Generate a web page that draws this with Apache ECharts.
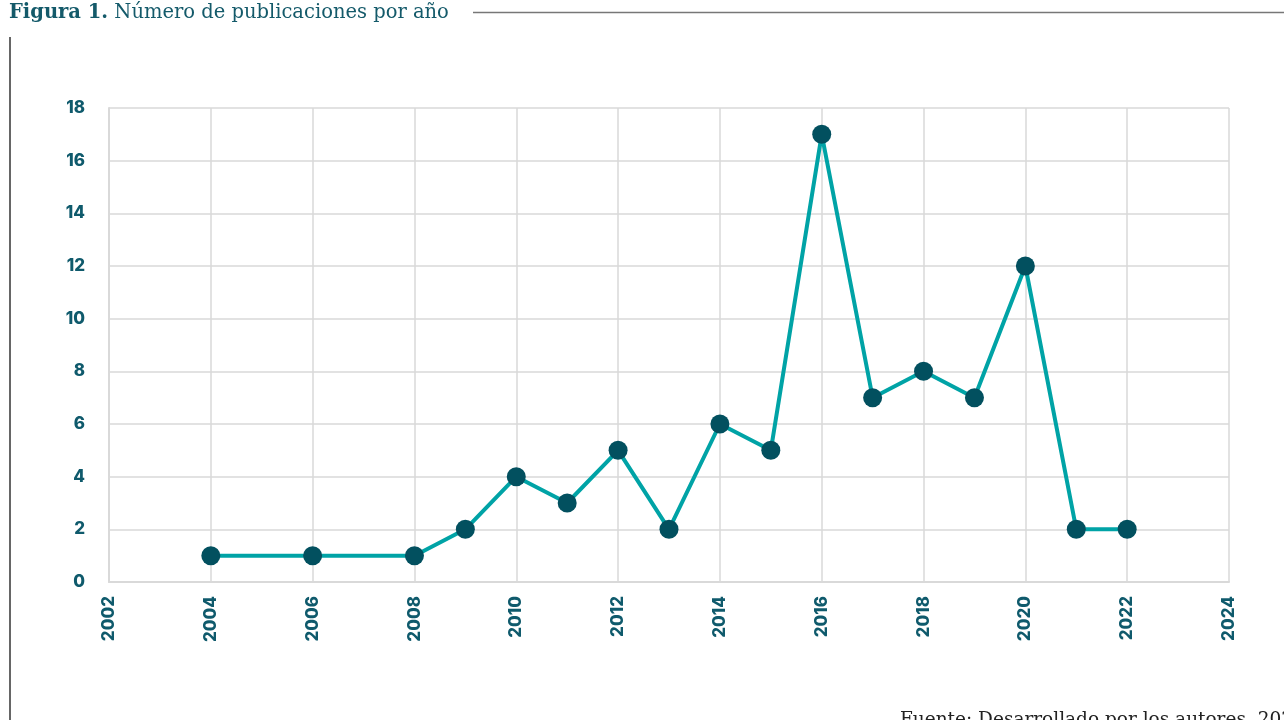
<!DOCTYPE html>
<html>
<head>
<meta charset="utf-8">
<script src="https://cdn.jsdelivr.net/npm/echarts@6/dist/echarts.min.js"></script>
<style>
html,body{margin:0;padding:0;background:#fff;}
#chart{width:1284px;height:720px;}
</style>
</head>
<body>
<div id="chart"></div>
<script>
const years = [2004, 2006, 2008, 2009, 2010, 2011, 2012, 2013, 2014, 2015, 2016, 2017, 2018, 2019, 2020, 2021, 2022];
const publications = [1, 1, 1, 2, 4, 3, 5, 2, 6, 5, 17, 7, 8, 7, 12, 2, 2];
const titleBold = 'Figura 1.';
const titleText = ' Número de publicaciones por año';
const sourceText = 'Fuente: Desarrollado por los autores, 2022';

const chart = echarts.init(document.getElementById('chart'));
const labelColor = '#0f5a6c';
chart.setOption({
  animation: false,
  grid: {left: 109, right: 55, top: 108, bottom: 138, containLabel: false},
  xAxis: {
    type: 'value', min: 2002, max: 2024, interval: 2,
    axisLine: {show: true, lineStyle: {color: '#d9d9d9', width: 2}},
    axisTick: {show: false},
    splitLine: {show: true, lineStyle: {color: '#d9d9d9', width: 1.5}},
    axisLabel: {rotate: 90, margin: 14, color: labelColor, fontFamily: 'Inter', fontWeight: 800, fontSize: 17,
      formatter: v => String(v)}
  },
  yAxis: {
    type: 'value', min: 0, max: 18, interval: 2,
    axisLine: {show: true, lineStyle: {color: '#d9d9d9', width: 2}},
    axisTick: {show: false},
    splitLine: {show: true, lineStyle: {color: '#d9d9d9', width: 1.5}},
    axisLabel: {margin: 24, color: labelColor, fontFamily: 'Inter', fontWeight: 800, fontSize: 17}
  },
  series: [{
    type: 'line',
    data: years.map((y, i) => [y, publications[i]]),
    symbol: 'circle', symbolSize: 19,
    lineStyle: {color: '#00a3a6', width: 4},
    itemStyle: {color: '#02505f'}
  }],
  graphic: [
    {type: 'text', left: 9, top: 3, style: {
      rich: {
        b: {fontFamily: 'DejaVu Serif', fontWeight: 'bold', fontSize: 19.5, fill: '#145a6a'},
        r: {fontFamily: 'DejaVu Serif', fontSize: 19.5, fill: '#145a6a'}
      },
      text: '{b|' + titleBold + '}{r|' + titleText + '}'
    }},
    {type: 'line', shape: {x1: 473, y1: 12.5, x2: 1284, y2: 12.5}, style: {stroke: '#777', lineWidth: 1.5}},
    {type: 'line', shape: {x1: 10, y1: 37, x2: 10, y2: 720}, style: {stroke: '#666', lineWidth: 2}},
    {type: 'text', left: 900, top: 711, style: {text: sourceText, fontFamily: 'DejaVu Serif', fontSize: 18.5, fill: '#222'}}
  ]
});
</script>
</body>
</html>
